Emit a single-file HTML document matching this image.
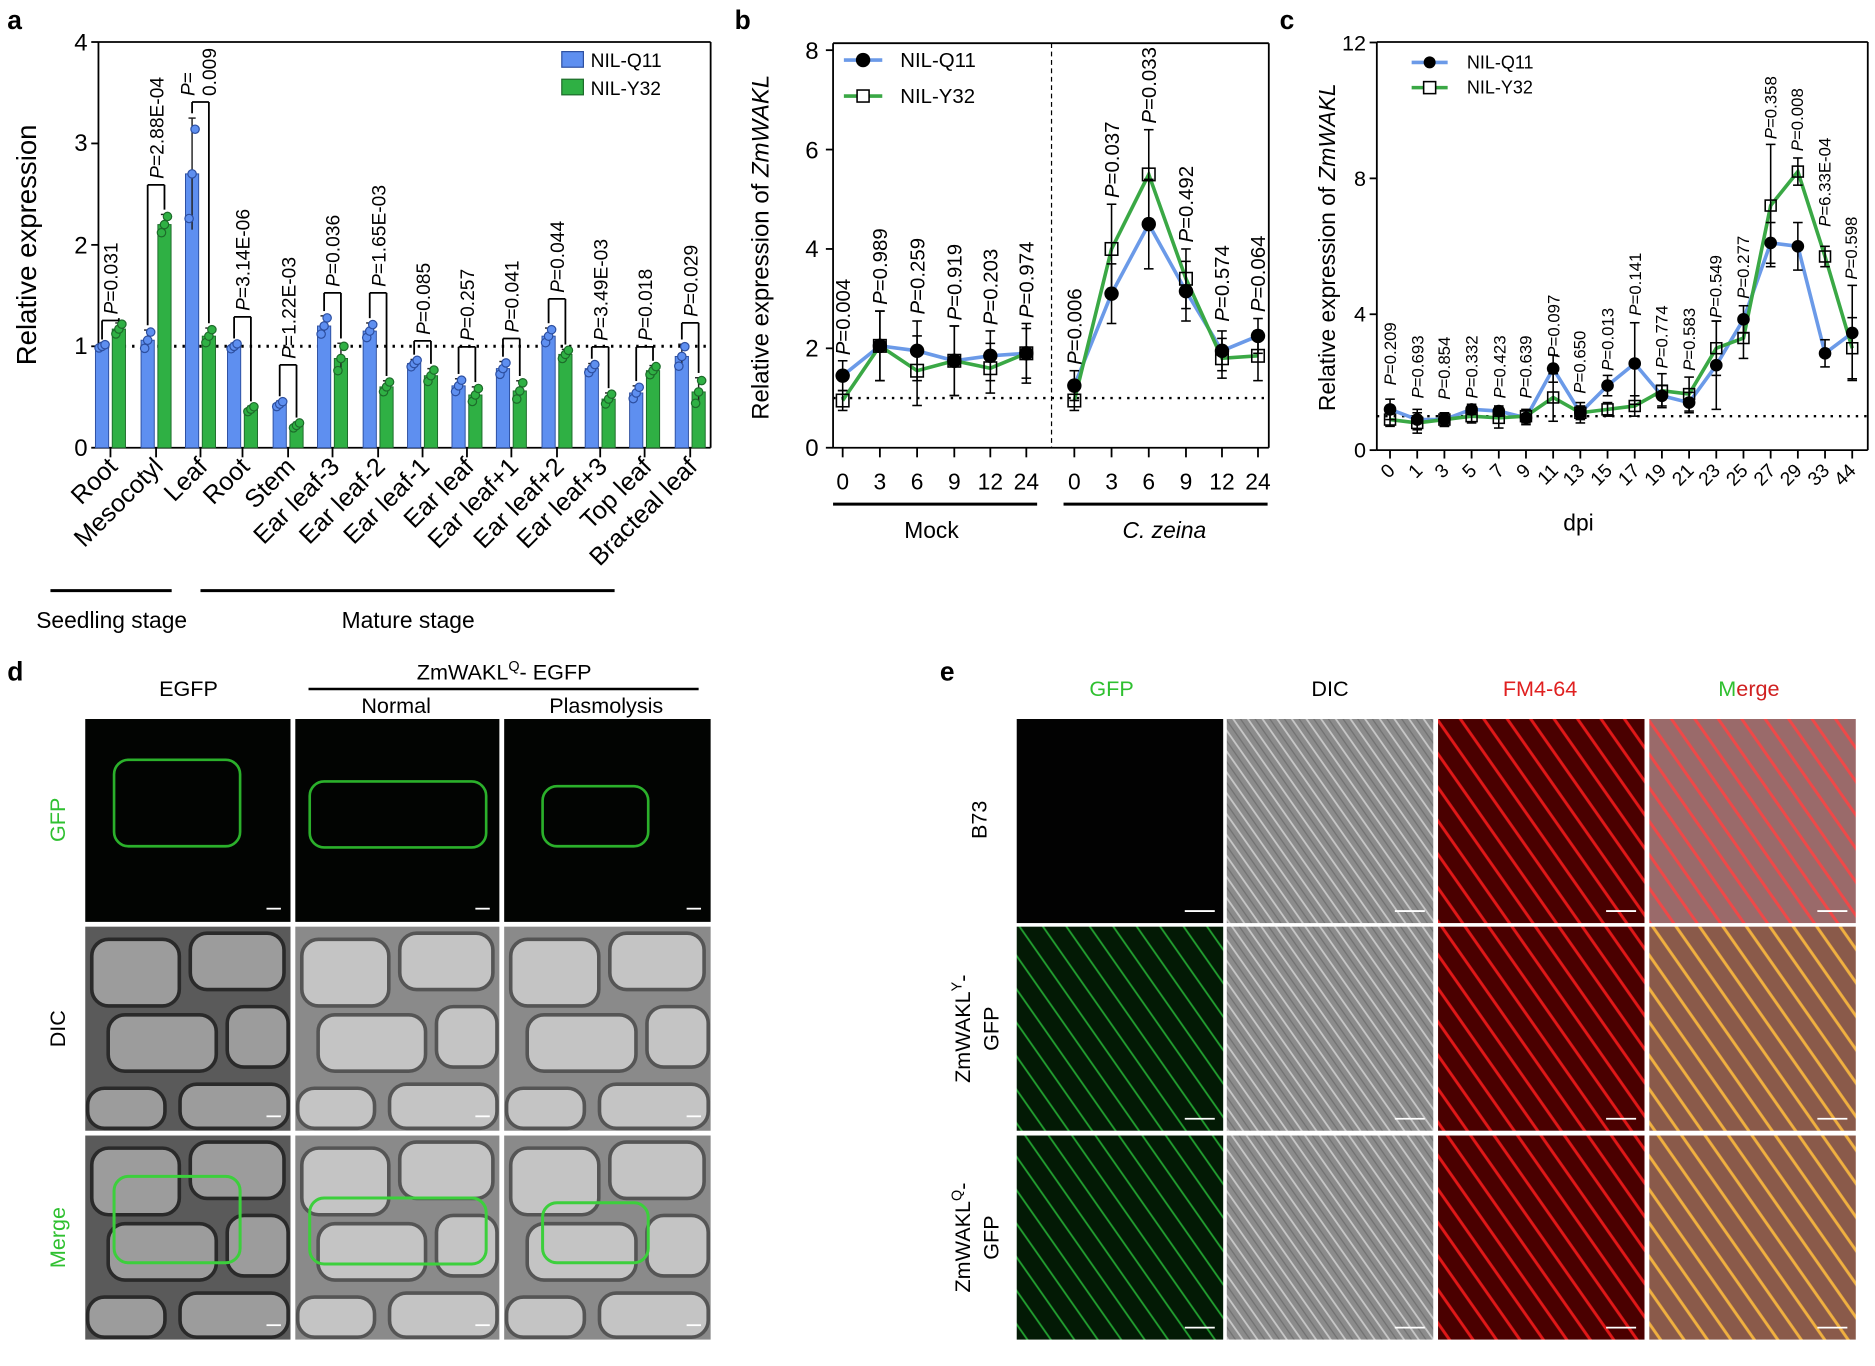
<!DOCTYPE html>
<html><head><meta charset="utf-8"><style>
html,body{margin:0;padding:0;background:#fff;}
svg{display:block;font-family:"Liberation Sans",Arial,sans-serif;}
</style></head><body>
<svg id="s" width="1875" height="1366" viewBox="0 0 1562 1138" xmlns="http://www.w3.org/2000/svg">
<defs>
<pattern id="pd" width="10" height="10" patternUnits="userSpaceOnUse" patternTransform="rotate(55)"><rect width="10" height="10" fill="#8c8c8c"/><line x1="0" y1="2" x2="10" y2="2" stroke="#c8c8c8" stroke-width="1.5"/><line x1="0" y1="7" x2="10" y2="7" stroke="#707070" stroke-width="1"/></pattern>
<pattern id="pf" width="16" height="16" patternUnits="userSpaceOnUse" patternTransform="rotate(55)"><rect width="16" height="16" fill="#4a0000"/><line x1="0" y1="3" x2="16" y2="3" stroke="#e01818" stroke-width="2.5"/></pattern>
<pattern id="pg" width="16" height="16" patternUnits="userSpaceOnUse" patternTransform="rotate(55)"><rect width="16" height="16" fill="#031a05"/><line x1="0" y1="3" x2="16" y2="3" stroke="#22a030" stroke-width="1.5"/></pattern>
<pattern id="pm1" width="16" height="16" patternUnits="userSpaceOnUse" patternTransform="rotate(55)"><rect width="16" height="16" fill="#9a6a6a"/><line x1="0" y1="3" x2="16" y2="3" stroke="#f04848" stroke-width="2.5"/></pattern>
<pattern id="pm2" width="16" height="16" patternUnits="userSpaceOnUse" patternTransform="rotate(55)"><rect width="16" height="16" fill="#8a5a4a"/><line x1="0" y1="3" x2="16" y2="3" stroke="#f0b040" stroke-width="2.5"/></pattern>
</defs>
<g id="g"></g>
<g font-weight="bold" font-size="22"><text x="6" y="24">a</text><text x="612" y="24">b</text><text x="1066" y="24">c</text><text x="6" y="567">d</text><text x="783" y="567">e</text></g>
<g font-size="20" text-anchor="end"><text x="73" y="380">0</text><text x="73" y="295">1</text><text x="73" y="211">2</text><text x="73" y="126">3</text><text x="73" y="42">4</text></g>
<text transform="translate(30,204) rotate(-90)" font-size="23" text-anchor="middle">Relative expression</text>
<g font-size="16"><rect x="468" y="43" width="18" height="13" fill="#5e8ff0" stroke="#2d4fa0"/><rect x="468" y="66" width="18" height="13" fill="#2fb044" stroke="#1d6b2a"/><text x="492" y="56">NIL-Q11</text><text x="492" y="79">NIL-Y32</text></g>
<g font-size="21" text-anchor="end">
<text transform="translate(99,390) rotate(-45)">Root</text>
<text transform="translate(137,390) rotate(-45)">Mesocotyl</text>
<text transform="translate(174,390) rotate(-45)">Leaf</text>
<text transform="translate(209,390) rotate(-45)">Root</text>
<text transform="translate(247,390) rotate(-45)">Stem</text>
<text transform="translate(284,390) rotate(-45)">Ear leaf-3</text>
<text transform="translate(322,390) rotate(-45)">Ear leaf-2</text>
<text transform="translate(359,390) rotate(-45)">Ear leaf-1</text>
<text transform="translate(396,390) rotate(-45)">Ear leaf</text>
<text transform="translate(433,390) rotate(-45)">Ear leaf+1</text>
<text transform="translate(471,390) rotate(-45)">Ear leaf+2</text>
<text transform="translate(507,390) rotate(-45)">Ear leaf+3</text>
<text transform="translate(544,390) rotate(-45)">Top leaf</text>
<text transform="translate(582,390) rotate(-45)">Bracteal leaf</text>
</g>
<g font-size="19" text-anchor="middle"><text x="93" y="523">Seedling stage</text><text x="340" y="523">Mature stage</text></g>
<g font-size="16">
<text transform="translate(98,262) rotate(-90)"><tspan font-style="italic">P</tspan>=0.031</text>
<text transform="translate(136,149) rotate(-90)"><tspan font-style="italic">P</tspan>=2.88E-04</text>
<text transform="translate(162,80) rotate(-90)"><tspan font-style="italic">P</tspan>=</text>
<text transform="translate(180,80) rotate(-90)">0.009</text>
<text transform="translate(208,259) rotate(-90)"><tspan font-style="italic">P</tspan>=3.14E-06</text>
<text transform="translate(246,299) rotate(-90)"><tspan font-style="italic">P</tspan>=1.22E-03</text>
<text transform="translate(283,239) rotate(-90)"><tspan font-style="italic">P</tspan>=0.036</text>
<text transform="translate(321,239) rotate(-90)"><tspan font-style="italic">P</tspan>=1.65E-03</text>
<text transform="translate(358,279) rotate(-90)"><tspan font-style="italic">P</tspan>=0.085</text>
<text transform="translate(395,284) rotate(-90)"><tspan font-style="italic">P</tspan>=0.257</text>
<text transform="translate(432,277) rotate(-90)"><tspan font-style="italic">P</tspan>=0.041</text>
<text transform="translate(470,244) rotate(-90)"><tspan font-style="italic">P</tspan>=0.044</text>
<text transform="translate(506,284) rotate(-90)"><tspan font-style="italic">P</tspan>=3.49E-03</text>
<text transform="translate(543,284) rotate(-90)"><tspan font-style="italic">P</tspan>=0.018</text>
<text transform="translate(581,264) rotate(-90)"><tspan font-style="italic">P</tspan>=0.029</text>
</g>
<g font-size="20" text-anchor="end"><text x="682" y="380">0</text><text x="682" y="297">2</text><text x="682" y="214">4</text><text x="682" y="132">6</text><text x="682" y="49">8</text></g>
<text transform="translate(640,206) rotate(-90)" font-size="20" text-anchor="middle">Relative expression of <tspan font-style="italic">ZmWAKL</tspan></text>
<g font-size="19" text-anchor="middle">
<text x="702" y="408">0</text><text x="733" y="408">3</text><text x="764" y="408">6</text><text x="795" y="408">9</text><text x="825" y="408">12</text><text x="855" y="408">24</text>
<text x="895" y="408">0</text><text x="926" y="408">3</text><text x="957" y="408">6</text><text x="988" y="408">9</text><text x="1018" y="408">12</text><text x="1048" y="408">24</text>
<text x="776" y="448">Mock</text><text x="970" y="448" font-style="italic">C. zeina</text></g>
<g font-size="17"><text x="750" y="56">NIL-Q11</text><text x="750" y="86">NIL-Y32</text></g>
<g font-size="17">
<text transform="translate(708,296) rotate(-90)"><tspan font-style="italic">P</tspan>=0.004</text>
<text transform="translate(739,254) rotate(-90)"><tspan font-style="italic">P</tspan>=0.989</text>
<text transform="translate(770,262) rotate(-90)"><tspan font-style="italic">P</tspan>=0.259</text>
<text transform="translate(801,267) rotate(-90)"><tspan font-style="italic">P</tspan>=0.919</text>
<text transform="translate(831,271) rotate(-90)"><tspan font-style="italic">P</tspan>=0.203</text>
<text transform="translate(861,265) rotate(-90)"><tspan font-style="italic">P</tspan>=0.974</text>
<text transform="translate(901,304) rotate(-90)"><tspan font-style="italic">P</tspan>=0.006</text>
<text transform="translate(932,165) rotate(-90)"><tspan font-style="italic">P</tspan>=0.037</text>
<text transform="translate(963,103) rotate(-90)"><tspan font-style="italic">P</tspan>=0.033</text>
<text transform="translate(994,202) rotate(-90)"><tspan font-style="italic">P</tspan>=0.492</text>
<text transform="translate(1024,268) rotate(-90)"><tspan font-style="italic">P</tspan>=0.574</text>
<text transform="translate(1054,260) rotate(-90)"><tspan font-style="italic">P</tspan>=0.064</text>
</g>
<g font-size="18" text-anchor="end"><text x="1138" y="381">0</text><text x="1138" y="268">4</text><text x="1138" y="155">8</text><text x="1138" y="42">12</text></g>
<text transform="translate(1112,206) rotate(-90)" font-size="19" text-anchor="middle">Relative expression of <tspan font-style="italic">ZmWAKL</tspan></text>
<g font-size="15"><text x="1222" y="57">NIL-Q11</text><text x="1222" y="78">NIL-Y32</text></g>
<text x="1315" y="442" font-size="19" text-anchor="middle">dpi</text>
<g font-size="16" text-anchor="end">
<text transform="translate(1163,393) rotate(-45)">0</text><text transform="translate(1186,393) rotate(-45)">1</text><text transform="translate(1208,393) rotate(-45)">3</text><text transform="translate(1231,393) rotate(-45)">5</text><text transform="translate(1254,393) rotate(-45)">7</text><text transform="translate(1276,393) rotate(-45)">9</text><text transform="translate(1299,393) rotate(-45)">11</text><text transform="translate(1321,393) rotate(-45)">13</text><text transform="translate(1344,393) rotate(-45)">15</text><text transform="translate(1367,393) rotate(-45)">17</text><text transform="translate(1389,393) rotate(-45)">19</text><text transform="translate(1412,393) rotate(-45)">21</text><text transform="translate(1434,393) rotate(-45)">23</text><text transform="translate(1457,393) rotate(-45)">25</text><text transform="translate(1480,393) rotate(-45)">27</text><text transform="translate(1502,393) rotate(-45)">29</text><text transform="translate(1525,393) rotate(-45)">33</text><text transform="translate(1547,393) rotate(-45)">44</text>
</g>
<g font-size="14">
<text transform="translate(1163,321) rotate(-90)"><tspan font-style="italic">P</tspan>=0.209</text>
<text transform="translate(1186,332) rotate(-90)"><tspan font-style="italic">P</tspan>=0.693</text>
<text transform="translate(1208,333) rotate(-90)"><tspan font-style="italic">P</tspan>=0.854</text>
<text transform="translate(1231,332) rotate(-90)"><tspan font-style="italic">P</tspan>=0.332</text>
<text transform="translate(1254,332) rotate(-90)"><tspan font-style="italic">P</tspan>=0.423</text>
<text transform="translate(1276,332) rotate(-90)"><tspan font-style="italic">P</tspan>=0.639</text>
<text transform="translate(1299,298) rotate(-90)"><tspan font-style="italic">P</tspan>=0.097</text>
<text transform="translate(1321,328) rotate(-90)"><tspan font-style="italic">P</tspan>=0.650</text>
<text transform="translate(1344,309) rotate(-90)"><tspan font-style="italic">P</tspan>=0.013</text>
<text transform="translate(1367,263) rotate(-90)"><tspan font-style="italic">P</tspan>=0.141</text>
<text transform="translate(1389,307) rotate(-90)"><tspan font-style="italic">P</tspan>=0.774</text>
<text transform="translate(1412,309) rotate(-90)"><tspan font-style="italic">P</tspan>=0.583</text>
<text transform="translate(1434,265) rotate(-90)"><tspan font-style="italic">P</tspan>=0.549</text>
<text transform="translate(1457,249) rotate(-90)"><tspan font-style="italic">P</tspan>=0.277</text>
<text transform="translate(1480,116) rotate(-90)"><tspan font-style="italic">P</tspan>=0.358</text>
<text transform="translate(1502,126) rotate(-90)"><tspan font-style="italic">P</tspan>=0.008</text>
<text transform="translate(1525,189) rotate(-90)"><tspan font-style="italic">P</tspan>=6.33E-04</text>
<text transform="translate(1547,233) rotate(-90)"><tspan font-style="italic">P</tspan>=0.598</text>
</g>
<g font-size="18" text-anchor="middle">
<text x="157" y="580">EGFP</text><text x="420" y="566">ZmWAKL<tspan font-size="12" dy="-7">Q</tspan><tspan dy="7">- EGFP</tspan></text>
<text x="330" y="594">Normal</text><text x="505" y="594">Plasmolysis</text>
<text transform="translate(54,683) rotate(-90)" fill="#2fc030">GFP</text>
<text transform="translate(54,857) rotate(-90)">DIC</text>
<text transform="translate(54,1031) rotate(-90)" fill="#2fc030">Merge</text>
</g>
<line x1="257" y1="574" x2="582" y2="574" stroke="#000" stroke-width="2"/>
<g font-size="18" text-anchor="middle">
<text x="926" y="580" fill="#2fc030">GFP</text><text x="1108" y="580">DIC</text><text x="1283" y="580" fill="#e02020">FM4-64</text>
<text x="1457" y="580"><tspan fill="#2fc030">M</tspan><tspan fill="#d02020">erge</tspan></text>
<text transform="translate(822,683) rotate(-90)">B73</text>
<text transform="translate(808,857) rotate(-90)">ZmWAKL<tspan font-size="12" dy="-7">Y</tspan><tspan dy="7">-</tspan></text>
<text transform="translate(832,857) rotate(-90)">GFP</text>
<text transform="translate(808,1031) rotate(-90)">ZmWAKL<tspan font-size="12" dy="-7">Q</tspan><tspan dy="7">-</tspan></text>
<text transform="translate(832,1031) rotate(-90)">GFP</text>
</g>
<script>
var NS="http://www.w3.org/2000/svg",G=document.getElementById("g");
function el(t,a){var e=document.createElementNS(NS,t);for(var k in a)e.setAttribute(k,a[k]);G.appendChild(e);return e;}
function L(x1,y1,x2,y2,c,w,d){var a={x1:x1,y1:y1,x2:x2,y2:y2,stroke:c||"#000","stroke-width":w||1.5};if(d)a["stroke-dasharray"]=d;return el("line",a);}
var BL="#6b9ae8",GR="#3aa845";
var ya=function(v){return 373-84.5*v;};
L(82,35,82,373);L(82,373,592,373);L(592,35,592,373);L(82,35,592,35);
for(var i=0;i<=4;i++)L(76,ya(i),82,ya(i));
var cs=[92,130,167,202,240,277,315,352,389,426,464,500,537,575];
var bq=[1.0,1.06,2.7,1.0,0.43,1.2,1.15,0.83,0.61,0.78,1.1,0.78,0.54,0.9];
var bg=[1.17,2.2,1.1,0.38,0.22,0.88,0.6,0.71,0.52,0.56,0.92,0.48,0.76,0.55];
var eq=[0.02,0.1,0.55,0.03,0.03,0.1,0.08,0.04,0.07,0.07,0.08,0.05,0.07,0.12];
var eg=[0.06,0.1,0.08,0.03,0.03,0.15,0.06,0.07,0.08,0.1,0.05,0.06,0.05,0.14];
var bt=[267,154,85,264,304,244,244,284,289,282,249,289,289,269];
L(82,ya(1),592,ya(1),"#000",2.5,"2 5");
cs.forEach(function(c,i){
 [[c-7,bq[i],eq[i],"#5e8ff0","#2d4fa0"],[c+7,bg[i],eg[i],"#2fb044","#1d6b2a"]].forEach(function(b){
  el("rect",{x:b[0]-5.5,y:ya(b[1]),width:11,height:373-ya(b[1]),fill:b[3],stroke:b[4],"stroke-width":0.8});
  L(b[0],ya(b[1]-b[2]),b[0],ya(b[1]+b[2]),"#222",1.2);L(b[0]-3,ya(b[1]+b[2]),b[0]+3,ya(b[1]+b[2]),"#222",1.2);
  [-1,0,1].forEach(function(k){el("circle",{cx:b[0]+k*2.5,cy:ya(b[1]+k*b[2]*0.8),r:3.5,fill:b[3],stroke:b[4],"stroke-width":1});});
 });
 var t=bt[i];L(c-7,t,c+7,t,"#000",1.5);L(c-7,t,c-7,ya(bq[i]+eq[i])-4,"#000",1.5);L(c+7,t,c+7,ya(bg[i]+eg[i])-4,"#000",1.5);
 L(c,373,c,381);
});
L(42,492,143,492,"#000",2.5);L(167,492,512,492,"#000",2.5);
var yb=function(v){return 373-41.4*v;};
L(694,36,694,373);L(694,373,1057,373);L(1057,36,1057,373);L(694,36,1057,36);
L(876,36,876,373,"#000",1,"4 3");
for(var i=0;i<=8;i+=2)L(688,yb(i),694,yb(i));
L(694,yb(1),1057,yb(1),"#000",2,"2 5");
var xb1=[702,733,764,795,825,855],xb2=[895,926,957,988,1018,1048];
xb1.concat(xb2).forEach(function(x){L(x,373,x,381);});
L(694,420,864,420,"#000",2.5);L(886,420,1056,420,"#000",2.5);
function series(xs,q,g,qe,ge,yf,ms){
 var pq=xs.map(function(x,i){return x+","+yf(q[i]);}).join(" ");
 var pg=xs.map(function(x,i){return x+","+yf(g[i]);}).join(" ");
 el("polyline",{points:pq,fill:"none",stroke:BL,"stroke-width":3});
 el("polyline",{points:pg,fill:"none",stroke:GR,"stroke-width":3});
 xs.forEach(function(x,i){
  [[q[i],qe[i]],[g[i],ge[i]]].forEach(function(p){L(x,yf(p[0]-p[1]),x,yf(p[0]+p[1]),"#000",1.3);L(x-4,yf(p[0]-p[1]),x+4,yf(p[0]-p[1]),"#000",1.3);L(x-4,yf(p[0]+p[1]),x+4,yf(p[0]+p[1]),"#000",1.3);});
  el("circle",{cx:x,cy:yf(q[i]),r:ms*0.75,fill:"#000"});
  el("rect",{x:x-ms*0.65,y:yf(g[i])-ms*0.65,width:ms*1.3,height:ms*1.3,fill:"none",stroke:"#000","stroke-width":1.3});
 });
}
series(xb1,[1.45,2.05,1.95,1.75,1.85,1.9],[0.95,2.05,1.55,1.75,1.6,1.9],[0.3,0.7,0.6,0.7,0.5,0.5],[0.2,0.7,0.7,0.7,0.5,0.6],yb,8);
series(xb2,[1.25,3.1,4.5,3.15,1.95,2.25],[0.95,4.0,5.5,3.4,1.8,1.85],[0.3,0.6,0.9,0.6,0.4,0.35],[0.2,0.9,0.9,0.6,0.4,0.5],yb,8);
L(703,50,735,50,BL,3);el("circle",{cx:719,cy:50,r:6,fill:"#000"});
L(703,80,735,80,GR,3);el("rect",{x:714,y:75,width:10,height:10,fill:"#fff",stroke:"#000","stroke-width":1.3});
var yc=function(v){return 375-28.3*v;};
L(1147,35,1147,375);L(1147,375,1556,375);L(1556,35,1556,375);L(1147,35,1556,35);
for(var i=0;i<=12;i+=4)L(1141,yc(i),1147,yc(i));
L(1147,yc(1),1556,yc(1),"#000",2,"2 5");
var xc=[];for(var i=0;i<18;i++)xc.push(1158+i*22.65);
xc.forEach(function(x){L(x,375,x,382);});
series(xc,[1.2,0.9,0.9,1.2,1.15,0.95,2.4,1.1,1.9,2.55,1.6,1.4,2.5,3.85,6.1,6.0,2.85,3.45],
 [0.9,0.8,0.9,1.0,0.95,1.0,1.55,1.1,1.2,1.3,1.75,1.65,3.0,3.3,7.2,8.2,5.7,3.0],
 [0.3,0.3,0.2,0.15,0.15,0.2,0.4,0.3,0.3,1.2,0.3,0.3,1.3,0.4,0.6,0.7,0.4,1.4],
 [0.2,0.3,0.2,0.2,0.3,0.2,0.7,0.2,0.2,0.3,0.5,0.5,0.8,0.6,1.8,0.4,0.3,0.9],yc,7);
L(1176,52,1206,52,BL,3);el("circle",{cx:1191,cy:52,r:5,fill:"#000"});
L(1176,73,1206,73,GR,3);el("rect",{x:1186,y:68,width:10,height:10,fill:"#fff",stroke:"#000","stroke-width":1.3});
var dc=[71,246,420],dw=[171,170,172],dr=[599,772,946];
function cells(x,y,w,h,fill,stroke){
 var g=[[0.02,0.05,0.45,0.35],[0.5,0.02,0.48,0.3],[0.1,0.42,0.55,0.3],[0.68,0.38,0.32,0.32],[0.0,0.78,0.4,0.22],[0.45,0.76,0.55,0.24]];
 g.forEach(function(c){el("rect",{x:x+c[0]*w+2,y:y+c[1]*h+2,width:c[2]*w-4,height:c[3]*h-4,rx:14,fill:fill,stroke:stroke,"stroke-width":3});});
}
dc.forEach(function(x,j){
 var w=dw[j];
 el("rect",{x:x,y:dr[0],width:w,height:169,fill:"#020402"});
 var o=[[24,34,105,72],[12,52,147,55],[32,56,88,50]][j];
 el("rect",{x:x+o[0],y:dr[0]+o[1],width:o[2],height:o[3],rx:12,fill:"none",stroke:"#2bb02b","stroke-width":2.2});
 for(var r=1;r<3;r++){
  el("rect",{x:x,y:dr[r],width:w,height:170,fill:j==0?"#5a5a5a":"#8a8a8a"});
  cells(x,dr[r],w,170,j==0?"#9c9c9c":"#c4c4c4",j==0?"#2a2a2a":"#555");
  if(r==2)el("rect",{x:x+o[0],y:dr[2]+o[1],width:o[2],height:o[3],rx:12,fill:"none",stroke:"#3ccf3c","stroke-width":2.5});
 }
 for(var r=0;r<3;r++)L(x+w-20,dr[r]+158,x+w-8,dr[r]+158,"#fff",1.5);
});
var ec=[847,1022,1198,1374];
var fills=[["#020202","url(#pd)","url(#pf)","url(#pm1)"],["url(#pg)","url(#pd)","url(#pf)","url(#pm2)"],["url(#pg)","url(#pd)","url(#pf)","url(#pm2)"]];
for(var r=0;r<3;r++)ec.forEach(function(x,j){
 el("rect",{x:x,y:dr[r],width:172,height:170,fill:fills[r][j]});
 L(x+140,dr[r]+160,x+165,dr[r]+160,"#fff",1.5);
});
</script>
</svg>
</body></html>
